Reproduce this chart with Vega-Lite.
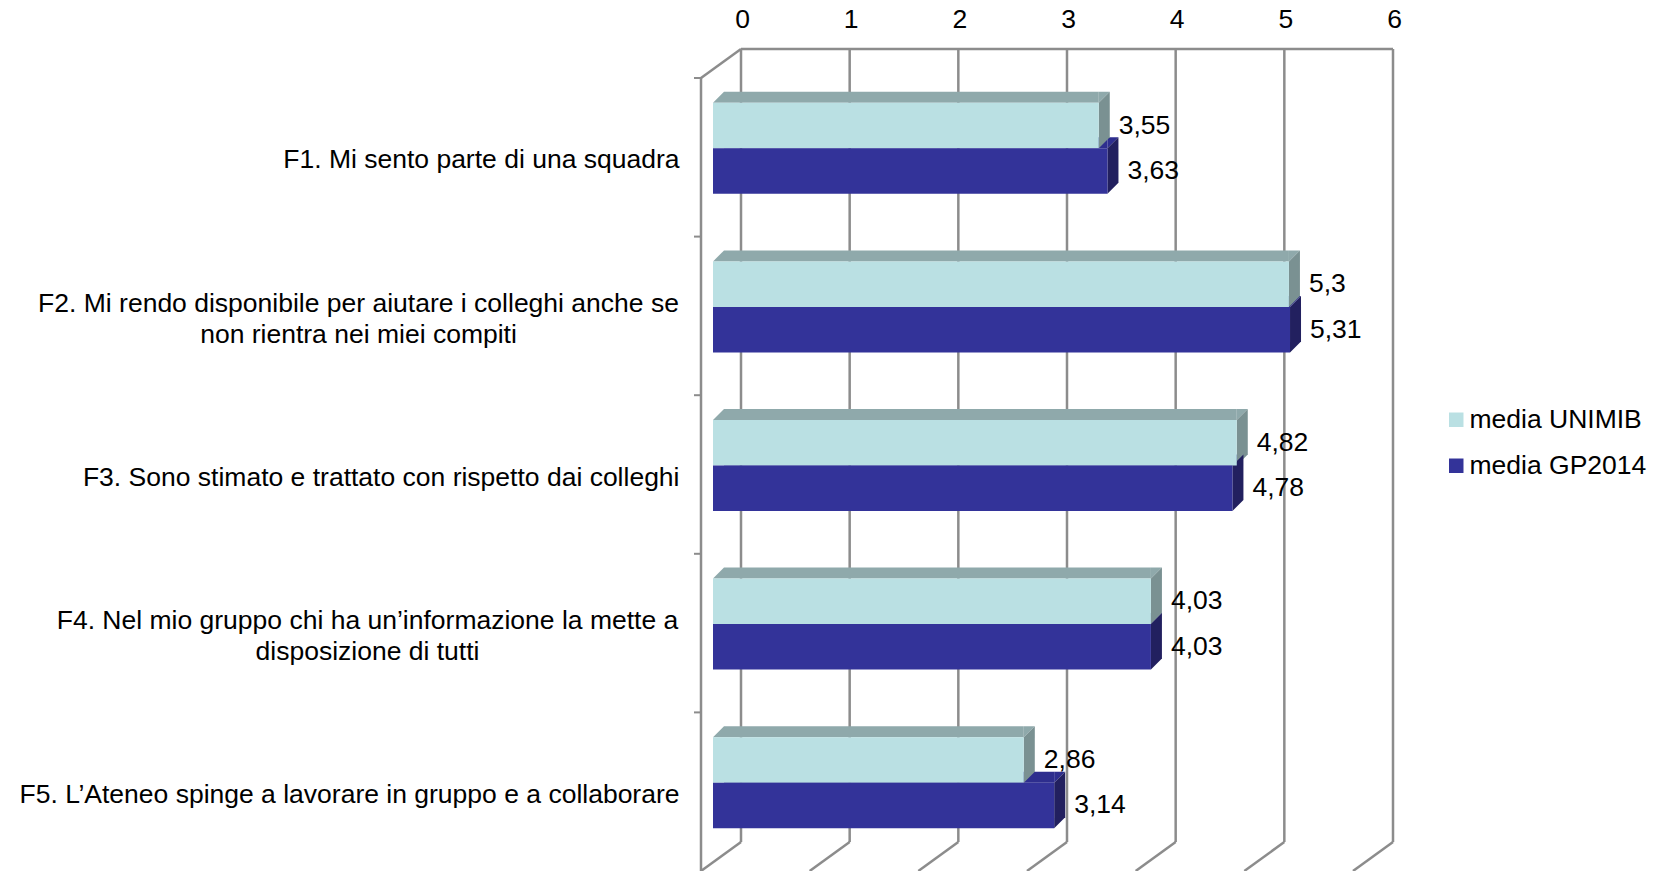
{
  "$schema": "https://vega.github.io/schema/vega-lite/v6.json",
  "width": 652,
  "height": 793,
  "autosize": "none",
  "padding": {"left": 713, "top": 69, "right": 292, "bottom": 9},
  "background": "white",
  "config": {
    "view": {"stroke": null},
    "font": "Liberation Sans",
    "locale": {"number": {"decimal": ",", "thousands": ".", "grouping": [3], "currency": ["€", ""]}}
  },
  "datasets": {
    "bars": [
      {"cat": "F1. Mi sento parte di una squadra", "series": "media UNIMIB", "value": 3.55},
      {"cat": "F1. Mi sento parte di una squadra", "series": "media GP2014", "value": 3.63},
      {"cat": "F2. Mi rendo disponibile per aiutare i colleghi anche se\nnon rientra nei miei compiti", "series": "media UNIMIB", "value": 5.3},
      {"cat": "F2. Mi rendo disponibile per aiutare i colleghi anche se\nnon rientra nei miei compiti", "series": "media GP2014", "value": 5.31},
      {"cat": "F3. Sono stimato e trattato con rispetto dai colleghi", "series": "media UNIMIB", "value": 4.82},
      {"cat": "F3. Sono stimato e trattato con rispetto dai colleghi", "series": "media GP2014", "value": 4.78},
      {"cat": "F4. Nel mio gruppo chi ha un’informazione la mette a\ndisposizione di tutti", "series": "media UNIMIB", "value": 4.03},
      {"cat": "F4. Nel mio gruppo chi ha un’informazione la mette a\ndisposizione di tutti", "series": "media GP2014", "value": 4.03},
      {"cat": "F5. L’Ateneo spinge a lavorare in gruppo e a collaborare", "series": "media UNIMIB", "value": 2.86},
      {"cat": "F5. L’Ateneo spinge a lavorare in gruppo e a collaborare", "series": "media GP2014", "value": 3.14}
    ],
    "ticks": [{"t": 0}, {"t": 1}, {"t": 2}, {"t": 3}, {"t": 4}, {"t": 5}, {"t": 6}]
  },
  "data": {"name": "bars"},
  "encoding": {
    "x": {
      "field": "value", "type": "quantitative",
      "scale": {"domain": [0, 6], "nice": false, "zero": true},
      "axis": {"orient": "top", "values": [0, 1, 2, 3, 4, 5, 6], "title": null, "grid": false, "ticks": false, "tickSize": 0, "domain": false, "labelOffset": 29, "labelPadding": 36, "labelFontSize": 26.5, "labelColor": "black", "labelFont": "Liberation Sans", "labelFlush": false}
    },
    "y": {
      "field": "cat", "type": "nominal",
      "scale": {"paddingInner": 0, "paddingOuter": 0},
      "axis": {
        "title": null, "ticks": false, "tickSize": 0, "domain": false, "grid": false,
        "labelFontSize": 26.5, "labelColor": "black", "labelFont": "Liberation Sans", "labelLimit": 0,
        "labelLineHeight": 31,
        "labelExpr": "split(datum.label, '\\n')",
        "labelOffset": {"condition": {"test": "datum.value == 'F2. Mi rendo disponibile per aiutare i colleghi anche se\\nnon rientra nei miei compiti' || datum.value == 'F4. Nel mio gruppo chi ha un’informazione la mette a\\ndisposizione di tutti'", "value": -3}, "value": 12},
        "labelAlign": {"condition": {"test": "datum.value == 'F2. Mi rendo disponibile per aiutare i colleghi anche se\\nnon rientra nei miei compiti' || datum.value == 'F4. Nel mio gruppo chi ha un’informazione la mette a\\ndisposizione di tutti'", "value": "center"}, "value": "right"},
        "labelPadding": {"condition": [{"test": "datum.value == 'F2. Mi rendo disponibile per aiutare i colleghi anche se\\nnon rientra nei miei compiti'", "value": 355}, {"test": "datum.value == 'F4. Nel mio gruppo chi ha un’informazione la mette a\\ndisposizione di tutti'", "value": 346}], "value": 34}
      }
    }
  },
  "layer": [
    {
      "data": {"name": "ticks"},
      "mark": {"type": "rule", "color": "#8c8c8c", "strokeWidth": 2.5, "xOffset": 28, "yOffset": -20, "y2Offset": -20},
      "encoding": {
        "x": {"field": "t", "type": "quantitative"},
        "y": {"value": 0},
        "y2": {"value": "height"}
      }
    },
    {
      "data": {"name": "ticks"},
      "mark": {"type": "rule", "color": "#8c8c8c", "strokeWidth": 2.5, "xOffset": 28, "x2Offset": -12, "yOffset": -20, "y2Offset": 9},
      "encoding": {
        "x": {"field": "t", "type": "quantitative"},
        "x2": {"field": "t"},
        "y": {"value": "height"},
        "y2": {"value": "height"}
      }
    },
    {
      "transform": [{"aggregate": [{"op": "count", "as": "value"}]}],
      "mark": {"type": "rule", "color": "#8c8c8c", "strokeWidth": 2.5, "xOffset": 28, "x2Offset": 28, "yOffset": -20},
      "encoding": {
        "x": {"datum": 0, "type": "quantitative"},
        "x2": {"datum": 6},
        "y": {"value": 0}
      }
    },
    {
      "transform": [{"aggregate": [{"op": "count", "as": "value"}]}],
      "mark": {"type": "rule", "color": "#8c8c8c", "strokeWidth": 2.5, "xOffset": -12, "yOffset": 9, "y2Offset": 9},
      "encoding": {
        "x": {"datum": 0, "type": "quantitative"},
        "y": {"value": 0},
        "y2": {"value": "height"}
      }
    },
    {
      "transform": [{"aggregate": [{"op": "count", "as": "value"}]}],
      "mark": {"type": "rule", "color": "#8c8c8c", "strokeWidth": 2.5, "xOffset": 28, "x2Offset": -12, "yOffset": -20, "y2Offset": 9},
      "encoding": {
        "x": {"datum": 0, "type": "quantitative"},
        "x2": {"datum": 0},
        "y": {"value": 0},
        "y2": {"value": 0}
      }
    },
    {
      "transform": [{"filter": "datum.series == 'media UNIMIB'"}],
      "mark": {"type": "rule", "color": "#8c8c8c", "strokeWidth": 2, "xOffset": -19, "x2Offset": -12, "yOffset": -70.3},
      "encoding": {
        "x": {"datum": 0, "type": "quantitative"},
        "x2": {"datum": 0}
      }
    },
    {
      "transform": [{"filter": "datum.series == 'media GP2014'"}],
      "mark": {"type": "bar", "fill": "#2E2E8E", "size": 11, "yOffset": -5.5, "x2Offset": 11},
      "encoding": {"x2": {"datum": 0}}
    },
    {
      "transform": [{"filter": "datum.series == 'media GP2014'"}],
      "mark": {"type": "point", "shape": "M0,0L0,-1.1L1.1,-1.1Z", "size": 400, "filled": true, "fill": "#2E2E8E", "strokeWidth": 0, "opacity": 1},
      "encoding": {}
    },
    {
      "transform": [{"filter": "datum.series == 'media UNIMIB'"}],
      "mark": {"type": "bar", "fill": "#8FA9AB", "size": 11, "yOffset": -51, "x2Offset": 11},
      "encoding": {"x2": {"datum": 0}}
    },
    {
      "transform": [{"filter": "datum.series == 'media UNIMIB'"}],
      "mark": {"type": "point", "shape": "M0,0L1.1,-1.1L1.1,0Z", "size": 400, "filled": true, "fill": "#8FA9AB", "strokeWidth": 0, "opacity": 1, "yOffset": -45.5},
      "encoding": {"x": {"datum": 0, "type": "quantitative"}}
    },
    {
      "transform": [{"filter": "datum.series == 'media UNIMIB'"}],
      "mark": {"type": "point", "shape": "M0,0L0,-1.1L1.1,-1.1Z", "size": 400, "filled": true, "fill": "#8FA9AB", "strokeWidth": 0, "opacity": 1, "yOffset": -45.5},
      "encoding": {}
    },
    {
      "transform": [{"filter": "datum.series == 'media UNIMIB'"}],
      "mark": {"type": "point", "shape": "M0,0L1.1,-1.1L1.1,3.45L0,4.55Z", "size": 400, "filled": true, "fill": "#7A9192", "strokeWidth": 0, "opacity": 1, "yOffset": -45.5},
      "encoding": {}
    },
    {
      "transform": [{"filter": "datum.series == 'media GP2014'"}],
      "mark": {"type": "point", "shape": "M0,0L1.1,-1.1L1.1,3.45L0,4.55Z", "size": 400, "filled": true, "fill": "#22205F", "strokeWidth": 0, "opacity": 1},
      "encoding": {}
    },
    {
      "transform": [{"filter": "datum.series == 'media UNIMIB'"}],
      "mark": {"type": "bar", "size": 45.5, "yOffset": -22.75},
      "encoding": {
        "color": {
          "field": "series", "type": "nominal",
          "scale": {"domain": ["media UNIMIB", "media GP2014"], "range": ["#BAE0E3", "#333399"]},
          "legend": {"title": null, "orient": "none", "legendX": 730, "legendY": 337.5, "symbolType": "square", "symbolSize": 210, "symbolStrokeWidth": 0, "symbolOpacity": 1, "labelFontSize": 26.5, "labelFont": "Liberation Sans", "labelColor": "black", "labelLimit": 0, "rowPadding": 19, "labelOffset": 0, "padding": 0}
        }
      }
    },
    {
      "transform": [{"filter": "datum.series == 'media GP2014'"}],
      "mark": {"type": "bar", "size": 45.5, "yOffset": 22.75},
      "encoding": {
        "color": {
          "field": "series", "type": "nominal",
          "scale": {"domain": ["media UNIMIB", "media GP2014"], "range": ["#BAE0E3", "#333399"]},
          "legend": {"title": null, "orient": "none", "legendX": 730, "legendY": 337.5, "symbolType": "square", "symbolSize": 210, "symbolStrokeWidth": 0, "symbolOpacity": 1, "labelFontSize": 26.5, "labelFont": "Liberation Sans", "labelColor": "black", "labelLimit": 0, "rowPadding": 19, "labelOffset": 0, "padding": 0}
        }
      }
    },
    {
      "transform": [{"filter": "datum.series == 'media UNIMIB'"}],
      "mark": {"type": "text", "align": "left", "baseline": "middle", "dx": 20, "yOffset": -22.75, "fontSize": 26.5, "font": "Liberation Sans", "color": "black"},
      "encoding": {"text": {"field": "value", "type": "quantitative", "format": ".2~f"}}
    },
    {
      "transform": [{"filter": "datum.series == 'media GP2014'"}],
      "mark": {"type": "text", "align": "left", "baseline": "middle", "dx": 20, "yOffset": 22.75, "fontSize": 26.5, "font": "Liberation Sans", "color": "black"},
      "encoding": {"text": {"field": "value", "type": "quantitative", "format": ".2~f"}}
    }
  ]
}
